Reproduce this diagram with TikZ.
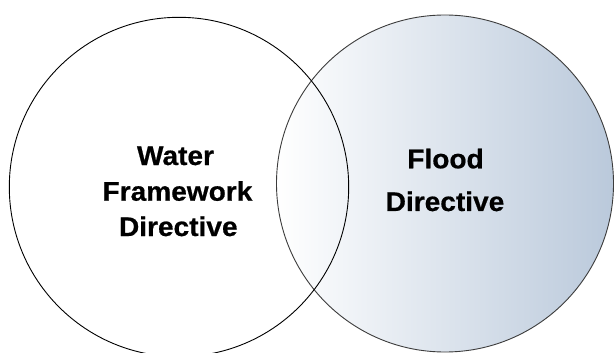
\documentclass[tikz,border=0pt]{standalone}
\usepackage{fontspec}
\newfontfamily\lblfont{Liberation Sans}[FakeStretch=1.04,FakeBold=0.6]
\definecolor{rimgrey}{HTML}{3C3C3C}
\definecolor{shadeblue}{HTML}{BAC9DB}
\tikzset{
  lbl/.style={font=\lblfont\bfseries\fontsize{27}{30}\selectfont, inner sep=0pt, anchor=base, text=black},
  setfd/.style={draw=rimgrey, line width=0.9pt, left color=white, right color=shadeblue},
  setwfd/.style={draw=black, line width=0.9pt}
}
\begin{document}
\begin{tikzpicture}[x=1pt,y=-1pt]
\useasboundingbox (0,0) rectangle (614,353);
\clip (0,0) rectangle (614,353);
\fill[white] (0,0) rectangle (614,353);
% right circle (Flood Directive)
\coordinate (fdc) at (445,183.5);
\path[setfd] (fdc) circle (168.5pt);
% left circle (Water Framework Directive)
\coordinate (wfc) at (179,187);
\path[setwfd] (wfc) circle (169.7pt);
% labels
\node[lbl] (w1) at (175.5,165) {Water};
\node[lbl] (w2) at (177.5,200.7) {Framework};
\node[lbl] (w3) at (178.3,236) {Directive};
\node[lbl] (f1) at (445.5,168.3) {Flood};
\node[lbl] (f2) at (445,211) {Directive};
\end{tikzpicture}
\end{document}
